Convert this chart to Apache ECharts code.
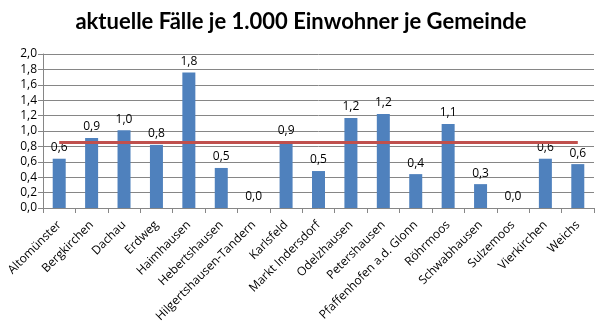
<!DOCTYPE html>
<html><head><meta charset="utf-8">
<script src="https://cdn.jsdelivr.net/npm/echarts@6/dist/echarts.min.js"></script>
<style>html,body{margin:0;padding:0;background:#fff}#c{width:602px;height:332px}</style>
</head><body><div id="c"></div>
<script>
var categories = ["Altomünster","Bergkirchen","Dachau","Erdweg","Haimhausen","Hebertshausen","Hilgertshausen-Tandern","Karlsfeld","Markt Indersdorf","Odelzhausen","Petershausen","Pfaffenhofen a.d. Glonn","Röhrmoos","Schwabhausen","Sulzemoos","Vierkirchen","Weichs"];
var cases = [0.64,0.91,1.01,0.82,1.76,0.52,0.0,0.86,0.48,1.17,1.22,0.44,1.09,0.31,0.0,0.64,0.57];
var average = [0.85,0.85,0.85,0.85,0.85,0.85,0.85,0.85,0.85,0.85,0.85,0.85,0.85,0.85,0.85,0.85,0.85];
var yTicks = ["0,0","0,2","0,4","0,6","0,8","1,0","1,2","1,4","1,6","1,8","2,0"];
var titleText = "aktuelle Fälle je 1.000 Einwohner je Gemeinde";

var chart = echarts.init(document.getElementById('c'), null, {renderer:'canvas'});
var fnt = "'Open Sans', 'Noto Sans', sans-serif";
chart.setOption({
  animation:false,
  title:{text:titleText,left:'center',top:6,textStyle:{fontFamily:"Lato, 'Noto Sans', sans-serif",fontWeight:'bold',fontSize:22,color:'#000'}},
  grid:{left:43,right:8,top:54,bottom:124,containLabel:false},
  xAxis:{type:'category',data:categories,boundaryGap:true,
    axisLine:{lineStyle:{color:'#868686',width:1}},
    axisTick:{show:true,alignWithLabel:false,length:5,lineStyle:{color:'#868686'}},
    axisLabel:{rotate:45,interval:0,margin:15,fontFamily:fnt,fontSize:12,color:'#000'}},
  yAxis:{type:'value',min:0,max:2,interval:0.2,
    axisLine:{show:true,lineStyle:{color:'#868686'}},
    axisTick:{show:true,length:5,lineStyle:{color:'#868686'}},
    splitLine:{lineStyle:{color:'#868686',width:1}},
    axisLabel:{fontFamily:fnt,fontSize:12,color:'#000',margin:6,
      formatter:function(v){return yTicks[Math.round(v/0.2)];}}},
  series:[
    {type:'bar',data:cases,barWidth:13,itemStyle:{color:'#4f81bd'},
     label:{show:true,position:'top',distance:5,fontFamily:fnt,fontSize:12,color:'#000',
       formatter:function(p){return p.value.toFixed(1).replace('.',',');}}},
    {type:'line',data:average,symbol:'none',lineStyle:{color:'#c0504d',width:3},z:3}
  ]
});
</script></body></html>
